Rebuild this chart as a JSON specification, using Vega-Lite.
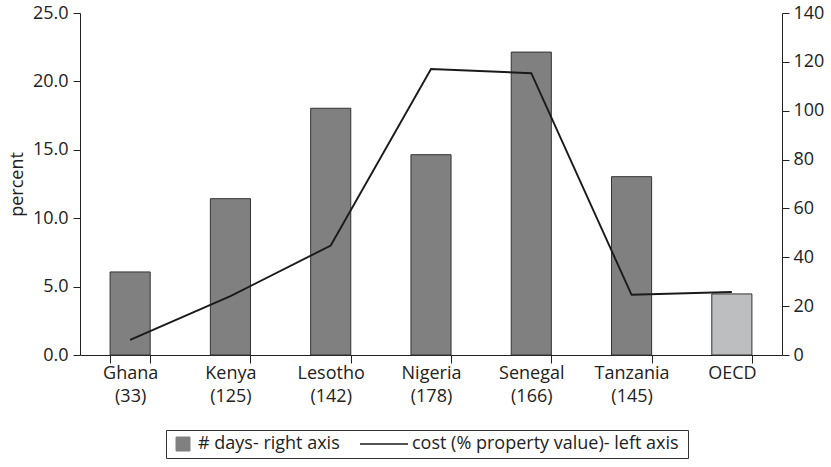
{
  "$schema": "https://vega.github.io/schema/vega-lite/v6.json",
  "width": 702,
  "height": 342,
  "autosize": {"type": "none"},
  "padding": {"left": 80, "top": 13, "right": 49, "bottom": 112},
  "background": "white",
  "config": {
    "font": "Open Sans",
    "view": {"stroke": null},
    "axis": {
      "grid": false,
      "domainColor": "#222",
      "tickColor": "#222",
      "labelColor": "#222",
      "labelFontSize": 18,
      "titleFontSize": 18,
      "titleFontWeight": "normal",
      "titleColor": "#222",
      "labelFont": "Open Sans",
      "titleFont": "Open Sans"
    }
  },
  "data": {
    "values": [
      {"country": "Ghana (33)", "days": 34, "cost": 1.1},
      {"country": "Kenya (125)", "days": 64, "cost": 4.3},
      {"country": "Lesotho (142)", "days": 101, "cost": 8.0},
      {"country": "Nigeria (178)", "days": 82, "cost": 20.9},
      {"country": "Senegal (166)", "days": 124, "cost": 20.6},
      {"country": "Tanzania (145)", "days": 73, "cost": 4.4},
      {"country": "OECD", "days": 25, "cost": 4.6}
    ]
  },
  "encoding": {
    "x": {
      "field": "country",
      "type": "nominal",
      "sort": null,
      "scale": {"paddingInner": 0.6, "paddingOuter": 0.3},
      "axis": {
        "title": null,
        "labelAngle": 0,
        "tickBand": "extent",
        "tickSize": 8,
        "labelPadding": 1,
        "labelExpr": "split(datum.label, ' ')",
        "labelLineHeight": 23,
        "labelBaseline": "top"
      }
    }
  },
  "layer": [
    {
      "mark": {"type": "bar", "stroke": "#333", "strokeWidth": 1},
      "encoding": {
        "y": {
          "field": "days",
          "type": "quantitative",
          "scale": {"domain": [0, 140]},
          "axis": {
            "orient": "right",
            "title": null,
            "values": [0, 20, 40, 60, 80, 100, 120, 140],
            "tickSize": 7,
            "labelPadding": 4
          }
        },
        "fill": {
          "condition": {"test": "datum.country === 'OECD'", "value": "#bdbebf"},
          "value": "#808080"
        }
      }
    },
    {
      "mark": {"type": "line", "strokeWidth": 1.9},
      "encoding": {
        "y": {
          "field": "cost",
          "type": "quantitative",
          "scale": {"domain": [0, 25]},
          "axis": {
            "orient": "left",
            "title": "percent",
            "values": [0, 5, 10, 15, 20, 25],
            "format": ".1f",
            "tickSize": 7,
            "labelPadding": 5,
            "titlePadding": 6
          }
        },
        "stroke": {
          "datum": "cost (% property value)- left  axis",
          "type": "nominal",
          "scale": {
            "domain": ["# days- right axis", "cost (% property value)- left  axis"],
            "range": ["#808080", "#1a1a1a"]
          },
          "legend": {
            "orient": "none",
            "legendX": 86,
            "legendY": 417,
            "direction": "horizontal",
            "title": null,
            "strokeColor": "#333",
            "padding": 4,
            "clipHeight": 20,
            "columnPadding": 18,
            "labelFontSize": 18,
            "labelFont": "Open Sans",
            "labelColor": "#222",
            "labelLimit": 400,
            "labelBaseline": "middle",
            "encode": {
              "symbols": {
                "update": {
                  "x": {"signal": "datum.index === 0 ? 13 : 26"},
                  "shape": {"signal": "datum.index === 0 ? 'square' : 'stroke'"},
                  "fill": {"signal": "datum.index === 0 ? '#808080' : 'transparent'"},
                  "stroke": {"signal": "datum.index === 0 ? '#333333' : '#1a1a1a'"},
                  "strokeWidth": {"signal": "datum.index === 0 ? 1 : 1.5"},
                  "size": {"signal": "datum.index === 0 ? 196 : 2304"},
                  "opacity": {"value": 1}
                }
              },
              "labels": {
                "update": {
                  "x": {"signal": "datum.index === 0 ? 28 : 54"}
                }
              }
            }
          }
        }
      }
    }
  ],
  "resolve": {"scale": {"y": "independent"}}
}
